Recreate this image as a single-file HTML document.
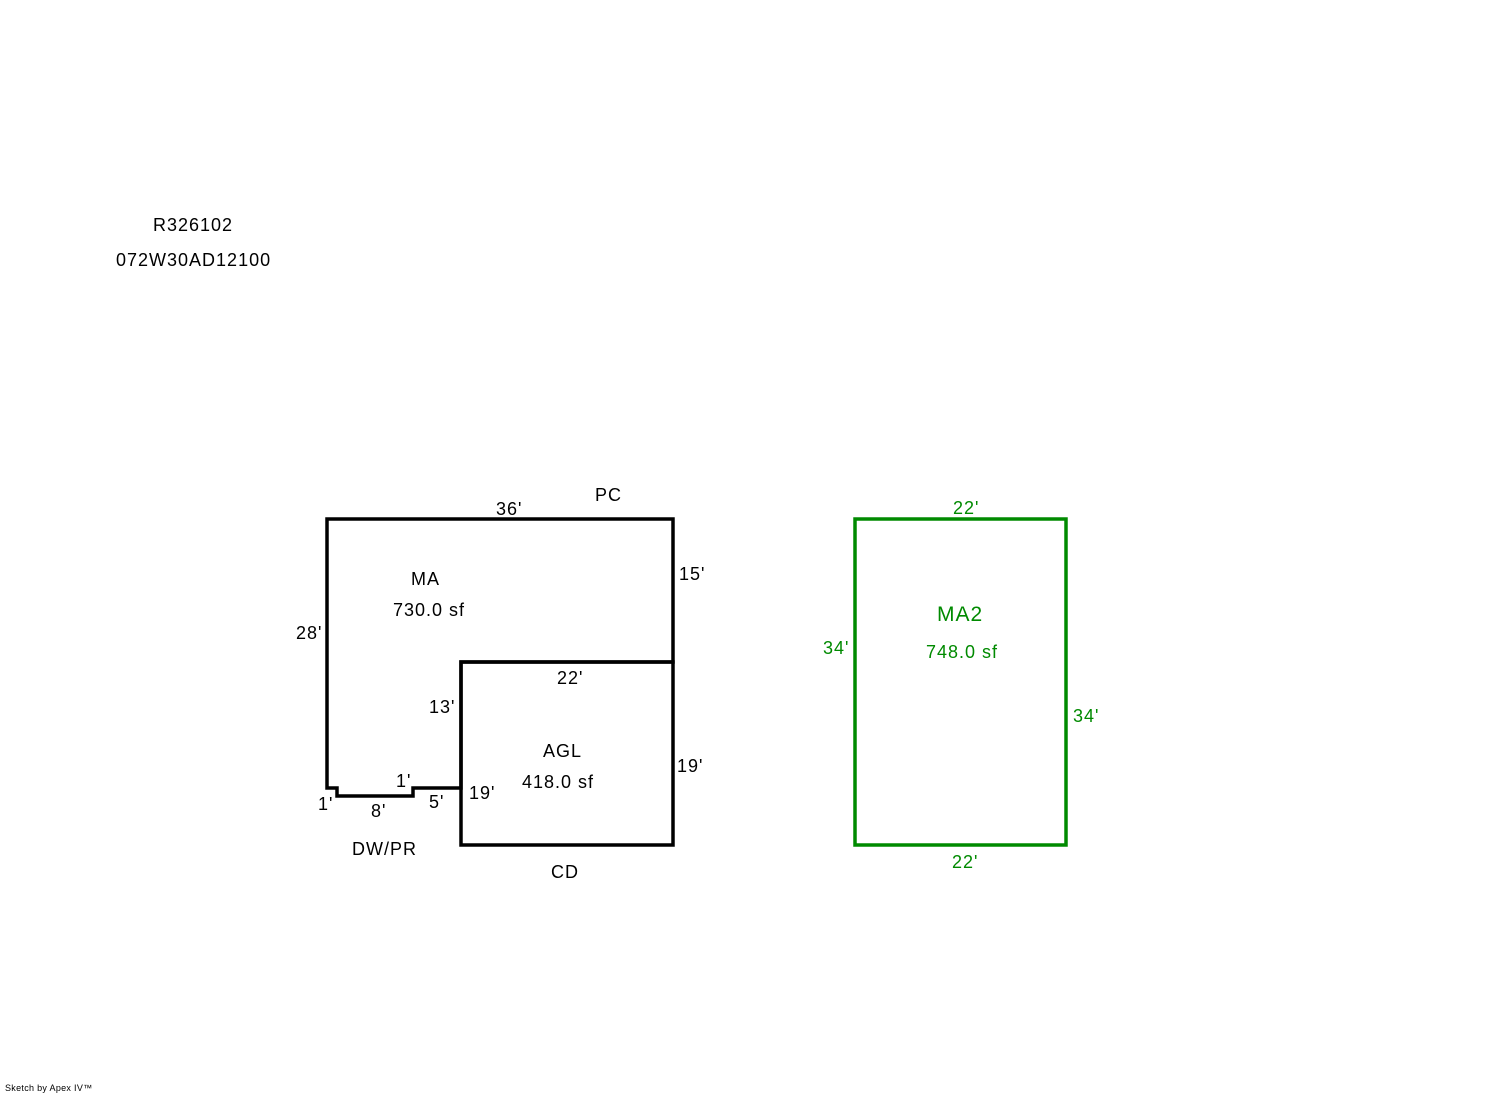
<!DOCTYPE html>
<html><head><meta charset="utf-8"><style>
html,body{margin:0;padding:0;background:#fff;width:1492px;height:1094px;overflow:hidden}
svg text{font-family:"Liberation Sans",Arial,sans-serif;font-size:18px;letter-spacing:1px}
</style></head><body>
<svg width="1492" height="1094" xmlns="http://www.w3.org/2000/svg">
<g fill="none" stroke="#000" stroke-width="3.5" stroke-linejoin="miter">
<path d="M327,519 L673,519 L673,662 L461,662 L461,788 L413,788 L413,796 L337,796 L337,788 L327,788 Z"/>
<rect x="461" y="662" width="212" height="183"/>
</g>
<rect x="855" y="519" width="211" height="326" fill="none" stroke="#008a00" stroke-width="3.5"/>
<g fill="#000">
<text x="153" y="231">R326102</text>
<text x="116" y="266">072W30AD12100</text>
<text x="496" y="515">36'</text>
<text x="595" y="501">PC</text>
<text x="679" y="580">15'</text>
<text x="296" y="639">28'</text>
<text x="411" y="585">MA</text>
<text x="393" y="616">730.0 sf</text>
<text x="557" y="684">22'</text>
<text x="429" y="713">13'</text>
<text x="543" y="757">AGL</text>
<text x="522" y="788">418.0 sf</text>
<text x="677" y="772">19'</text>
<text x="469" y="799">19'</text>
<text x="396" y="787">1'</text>
<text x="318" y="810">1'</text>
<text x="371" y="817">8'</text>
<text x="429" y="808">5'</text>
<text x="352" y="855">DW/PR</text>
<text x="551" y="878">CD</text>
<text x="5" y="1091" style="font-size:9px;letter-spacing:0.3px">Sketch by Apex IV™</text>
</g>
<g fill="#008a00">
<text x="953" y="514">22'</text>
<text x="937" y="621" style="font-size:21px">MA2</text>
<text x="926" y="658">748.0 sf</text>
<text x="823" y="654">34'</text>
<text x="1073" y="722">34'</text>
<text x="952" y="868">22'</text>
</g>
</svg>
</body></html>
